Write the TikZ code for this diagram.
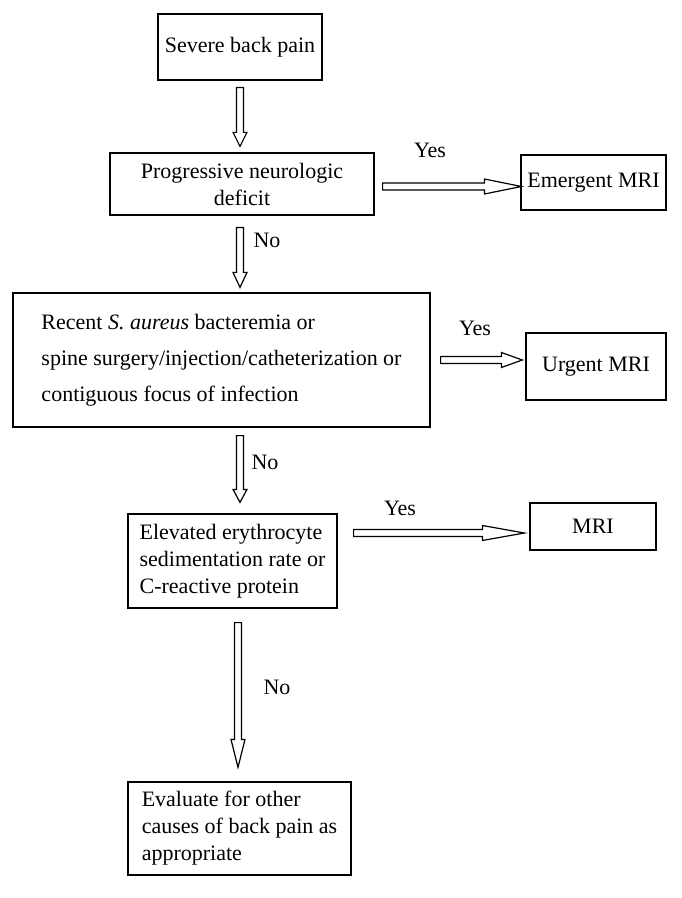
\documentclass[tikz,border=0pt]{standalone}
\usepackage{fontspec}
\setmainfont{Liberation Serif}
\usetikzlibrary{calc}

\newcommand{\darrow}[3]{\draw [hollow] let \p1=(#1), \p2=(#2) in (\x1-1.75pt,\y1) -- (\x1+1.75pt,\y1) -- (\x1+1.75pt,\y2+#3) -- (\x1+3.5pt,\y2+#3) -- (\x1,\y2) -- (\x1-3.5pt,\y2+#3) -- (\x1-1.75pt,\y2+#3) -- cycle;}
\newcommand{\rarrow}[3]{\draw [hollow] let \p1=(#1), \p2=(#2) in (\x1,\y1+1.75pt) -- (\x2-#3,\y1+1.75pt) -- (\x2-#3,\y1+3.75pt) -- (\x2,\y1) -- (\x2-#3,\y1-3.75pt) -- (\x2-#3,\y1-1.75pt) -- (\x1,\y1-1.75pt) -- cycle;}

\begin{document}
\begin{tikzpicture}[x=0.5pt,y=-0.5pt,
  box/.style={draw, line width=0.6pt, inner sep=0pt, align=left, font=\fontsize{11}{13.5}\selectfont},
  lbl/.style={inner sep=0pt, font=\fontsize{11}{13.5}\selectfont},
  hollow/.style={draw, line width=0.6pt, fill=white}]
\useasboundingbox (0,0) rectangle (681,898);
\coordinate (col) at (240,0);
% boxes
\node [box, minimum width=82pt, minimum height=33pt] (sev) at (240,47) {Severe back pain};
\node [box, align=center, minimum width=132pt, minimum height=31pt] (prog) at (242,184) {Progressive neurologic\\deficit};
\node [box, minimum width=72.5pt, minimum height=27.5pt] (emer) at (593.5,182.5) {Emergent MRI};
\node [box, minimum width=208.5pt, minimum height=67pt, font=\fontsize{11}{18}\selectfont] (recent) at (221.5,360) {Recent \textit{S. aureus} bacteremia or\\spine surgery/injection/catheterization or\\contiguous focus of infection};
\node [box, minimum width=70pt, minimum height=33.5pt] (urgent) at (596,366.5) {Urgent MRI};
\node [box, minimum width=104.5pt, minimum height=47pt] (elev) at (232.5,561) {Elevated erythrocyte\\sedimentation rate or\\C-reactive protein};
\node [box, minimum width=63pt, minimum height=23.5pt] (mri) at (593,526.5) {MRI};
\node [box, minimum width=111.5pt, minimum height=46.5pt] (eval) at (239.5,828.5) {Evaluate for other\\causes of back pain as\\appropriate};
% arrows
\darrow{$(col |- sev.south)+(0,7)$}{$(col |- prog.north)+(0,-6)$}{7pt}
\darrow{$(col |- prog.south)+(0,12)$}{$(col |- recent.north)+(0,-5)$}{7.5pt}
\darrow{$(col |- recent.south)+(0,8)$}{$(col |- elev.north)+(0,-11)$}{6.5pt}
\darrow{$(col |- elev.south)+(-2,14)$}{$(col |- eval.north)+(-2,-14)$}{14pt}
\rarrow{$(prog.east)+(8,2.5)$}{$(emer.west)+(1,0)$}{18.5pt}
\rarrow{$(recent.east)+(10,0)$}{$(urgent.west)+(-3,0)$}{10.5pt}
\rarrow{$(elev.east)+(16,-28)$}{$(mri.west)+(-5,0)$}{21pt}
% labels
\node [lbl] (yes1) at (430,150) {Yes};
\node [lbl] (no1) at (267,240) {No};
\node [lbl] (yes2) at (475,328) {Yes};
\node [lbl] (no2) at (265,462) {No};
\node [lbl] (yes3) at (400,508) {Yes};
\node [lbl] (no3) at (277,687) {No};
\end{tikzpicture}
\end{document}
